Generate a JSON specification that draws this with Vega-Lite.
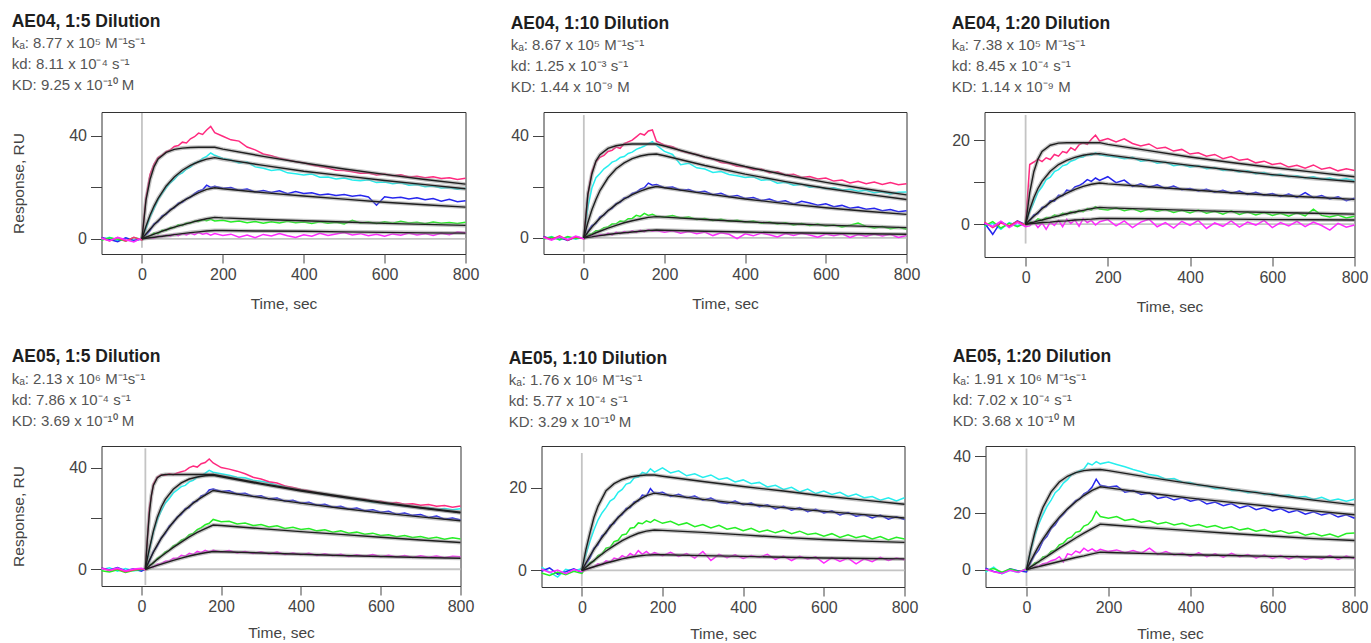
{
"$schema": "https://vega.github.io/schema/vega-lite/v6.json",
"padding": {"left": 10.5, "top": 12, "right": 5, "bottom": 2},
"config": {
  "font": "Liberation Sans",
  "view": {"stroke": "#333333", "strokeWidth": 1},
  "title": {"anchor": "start", "fontSize": 17.5, "fontWeight": "bold", "color": "#1e1e1e", "subtitleFontSize": 15, "subtitleColor": "#555555", "subtitleLineHeight": 21, "subtitlePadding": 6, "offset": 16},
  "axis": {"labelFontSize": 16, "labelColor": "#444444", "titleFontSize": 15.5, "titleFontWeight": "normal", "titleColor": "#444444", "tickColor": "#444444", "domain": false, "grid": false, "labelFlush": false, "labelOverlap": false},
  "axisX": {"tickSize": 9, "labelPadding": 3, "titlePadding": 14},
  "axisY": {"tickSize": 11, "labelPadding": 4, "titlePadding": 42}
},
"datasets": {
"g": [
{"p":1,"k":"v","t":0,"v":-3.5},{"p":1,"k":"v","t":0,"v":48.8},{"p":1,"k":"h","t":0,"v":0},{"p":1,"k":"h","t":800,"v":0},
{"p":2,"k":"v","t":0,"v":-5.4},{"p":2,"k":"v","t":0,"v":48},{"p":2,"k":"h","t":0,"v":0},{"p":2,"k":"h","t":800,"v":0},
{"p":3,"k":"v","t":0,"v":-4.6},{"p":3,"k":"v","t":0,"v":26},{"p":3,"k":"h","t":0,"v":0},{"p":3,"k":"h","t":800,"v":0},
{"p":4,"k":"v","t":10,"v":-6.2},{"p":4,"k":"v","t":10,"v":47.6},{"p":4,"k":"h","t":10,"v":0},{"p":4,"k":"h","t":800,"v":0},
{"p":5,"k":"v","t":0,"v":-3.8},{"p":5,"k":"v","t":0,"v":28.4},{"p":5,"k":"h","t":0,"v":0},{"p":5,"k":"h","t":800,"v":0},
{"p":6,"k":"v","t":0,"v":-5.8},{"p":6,"k":"v","t":0,"v":42.8},{"p":6,"k":"h","t":0,"v":0},{"p":6,"k":"h","t":800,"v":0}
],
"n1": [
{"t":-100,"r":0.3,"c":-0.4,"b":0.5,"g":-0.6,"m":0.2},
{"t":-80,"r":-0.8,"c":0.6,"b":-0.3,"g":0.4,"m":-0.7},
{"t":-60,"r":0.5,"c":-0.7,"b":-1.1,"g":-0.2,"m":0.6},
{"t":-40,"r":-0.9,"c":0.3,"b":0.4,"g":-0.8,"m":-0.4},
{"t":-20,"r":0.6,"c":-1.0,"b":-0.6,"g":0.5,"m":-1.2},
{"t":0,"r":-0.5,"c":0.2,"b":-0.2,"g":-0.3,"m":0.4},
{"t":10,"r":16,"c":4,"b":1.5,"g":0.8,"m":0.3},
{"t":20,"r":25,"c":8.5,"b":3.2,"g":1.0,"m":0.6},
{"t":30,"r":29,"c":11.8,"b":5.8,"g":2.2,"m":0.2},
{"t":40,"r":31.5,"c":15.2,"b":6.6,"g":2.0,"m":1.1},
{"t":50,"r":32.5,"c":17.6,"b":8.9,"g":3.3,"m":0.8},
{"t":60,"r":33.8,"c":19.8,"b":9.5,"g":3.2,"m":1.5},
{"t":70,"r":34.5,"c":21.7,"b":11.4,"g":4.4,"m":1.0},
{"t":80,"r":35.8,"c":23.0,"b":12.0,"g":4.3,"m":1.8},
{"t":90,"r":36.2,"c":24.8,"b":13.8,"g":5.4,"m":1.2},
{"t":100,"r":37.5,"c":25.6,"b":14.2,"g":5.2,"m":2.0},
{"t":110,"r":37.2,"c":27.1,"b":15.6,"g":6.1,"m":1.5},
{"t":120,"r":38.8,"c":27.8,"b":16.1,"g":6.0,"m":2.2},
{"t":130,"r":39.6,"c":29.4,"b":17.5,"g":6.9,"m":1.6},
{"t":140,"r":41.0,"c":29.8,"b":18.6,"g":6.7,"m":2.4},
{"t":150,"r":40.5,"c":31.2,"b":19.0,"g":7.4,"m":1.8},
{"t":160,"r":42.2,"c":32.0,"b":20.8,"g":7.0,"m":2.1},
{"t":170,"r":43.6,"c":33.3,"b":19.9,"g":7.6,"m":1.4},
{"t":180,"r":41.2,"c":32.4,"b":20.4,"g":6.9,"m":2.0},
{"t":200,"r":39.8,"c":31.2,"b":19.6,"g":7.2,"m":1.3},
{"t":220,"r":38.4,"c":30.6,"b":19.9,"g":6.5,"m":1.8},
{"t":240,"r":37.9,"c":29.4,"b":18.8,"g":6.9,"m":0.6},
{"t":260,"r":35.6,"c":29.8,"b":19.3,"g":6.2,"m":1.5},
{"t":280,"r":34.5,"c":27.9,"b":18.2,"g":6.7,"m":0.4},
{"t":300,"r":32.9,"c":27.4,"b":18.7,"g":6.0,"m":1.7},
{"t":320,"r":32.2,"c":26.5,"b":18.0,"g":6.6,"m":1.1},
{"t":340,"r":31.3,"c":26.9,"b":18.6,"g":6.1,"m":2.0},
{"t":360,"r":30.6,"c":25.6,"b":17.5,"g":6.8,"m":1.2},
{"t":380,"r":29.9,"c":25.2,"b":18.3,"g":6.2,"m":0.5},
{"t":400,"r":29.5,"c":24.8,"b":17.6,"g":6.5,"m":1.6},
{"t":420,"r":28.6,"c":25.1,"b":17.9,"g":5.9,"m":1.0},
{"t":440,"r":28.0,"c":23.9,"b":17.0,"g":6.6,"m":2.1},
{"t":460,"r":27.5,"c":24.0,"b":17.4,"g":6.0,"m":1.3},
{"t":480,"r":26.6,"c":23.2,"b":16.8,"g":6.4,"m":1.9},
{"t":500,"r":26.5,"c":23.6,"b":17.2,"g":5.8,"m":2.4},
{"t":520,"r":26.0,"c":22.8,"b":16.5,"g":7.2,"m":1.5},
{"t":540,"r":25.4,"c":22.5,"b":16.9,"g":6.1,"m":2.0},
{"t":560,"r":25.5,"c":22.9,"b":16.2,"g":6.5,"m":1.2},
{"t":580,"r":24.8,"c":21.8,"b":13.0,"g":5.9,"m":1.8},
{"t":600,"r":25.1,"c":22.0,"b":16.3,"g":6.6,"m":1.0},
{"t":620,"r":24.5,"c":21.4,"b":15.8,"g":6.0,"m":1.9},
{"t":640,"r":24.8,"c":21.7,"b":16.1,"g":6.8,"m":1.4},
{"t":660,"r":24.0,"c":20.8,"b":15.4,"g":6.1,"m":2.2},
{"t":680,"r":24.3,"c":21.1,"b":15.9,"g":6.4,"m":1.5},
{"t":700,"r":23.7,"c":20.2,"b":15.2,"g":5.8,"m":2.0},
{"t":720,"r":24.1,"c":20.5,"b":15.6,"g":6.5,"m":1.3},
{"t":740,"r":23.4,"c":19.7,"b":14.6,"g":6.0,"m":2.1},
{"t":760,"r":23.7,"c":19.9,"b":15.3,"g":6.3,"m":1.6},
{"t":780,"r":23.0,"c":19.2,"b":14.4,"g":5.9,"m":2.6},
{"t":800,"r":23.5,"c":19.6,"b":14.8,"g":6.4,"m":2.3}
],
"f1": [
{"t":0,"r":0,"c":0,"b":0,"g":0,"m":0},
{"t":10,"r":15,"c":4.9,"b":1.9,"g":0.6,"m":0.2},
{"t":20,"r":23,"c":9.1,"b":3.7,"g":1.2,"m":0.4},
{"t":30,"r":28,"c":12.7,"b":5.4,"g":1.8,"m":0.6},
{"t":40,"r":31,"c":15.7,"b":7.0,"g":2.4,"m":0.8},
{"t":60,"r":33.5,"c":20.5,"b":9.8,"g":3.5,"m":1.2},
{"t":80,"r":34.7,"c":24.0,"b":12.3,"g":4.5,"m":1.6},
{"t":100,"r":35.2,"c":26.6,"b":14.5,"g":5.4,"m":2.0},
{"t":120,"r":35.4,"c":28.5,"b":16.3,"g":6.3,"m":2.4},
{"t":140,"r":35.5,"c":29.9,"b":17.9,"g":7.1,"m":2.7},
{"t":160,"r":35.5,"c":30.9,"b":19.2,"g":7.8,"m":3.0},
{"t":180,"r":35.5,"c":31.5,"b":19.8,"g":8.3,"m":3.2},
{"t":200,"r":34.8,"c":30.9,"b":19.4,"g":8.1,"m":3.2},
{"t":300,"r":32.0,"c":28.5,"b":17.9,"g":7.5,"m":3.0},
{"t":400,"r":29.4,"c":26.2,"b":16.6,"g":7.0,"m":2.9},
{"t":500,"r":27.1,"c":24.4,"b":15.4,"g":6.5,"m":2.7},
{"t":600,"r":25.0,"c":22.6,"b":14.2,"g":6.0,"m":2.5},
{"t":700,"r":23.0,"c":21.0,"b":13.2,"g":5.6,"m":2.3},
{"t":800,"r":21.2,"c":19.4,"b":12.3,"g":5.2,"m":2.2}
],
"n2": [
{"t":-100,"r":0.4,"c":-0.3,"b":0.6,"g":-0.5,"m":0.1},
{"t":-80,"r":-0.6,"c":0.5,"b":-0.5,"g":0.3,"m":-0.9},
{"t":-60,"r":0.8,"c":-0.8,"b":0.1,"g":-0.7,"m":0.4},
{"t":-40,"r":-0.9,"c":0.2,"b":-1.0,"g":0.5,"m":-0.6},
{"t":-20,"r":0.3,"c":-0.5,"b":0.4,"g":-0.2,"m":0.7},
{"t":0,"r":-0.4,"c":0.3,"b":-0.2,"g":0.1,"m":-0.3},
{"t":10,"r":17,"c":12,"b":2.5,"g":1.2,"m":0.4},
{"t":20,"r":26,"c":19.5,"b":4.8,"g":1.6,"m":0.8},
{"t":30,"r":29.8,"c":23.5,"b":5.6,"g":2.8,"m":0.5},
{"t":40,"r":31.5,"c":25.2,"b":8.2,"g":2.9,"m":1.3},
{"t":50,"r":32.2,"c":27.0,"b":8.9,"g":4.0,"m":1.0},
{"t":60,"r":33.8,"c":28.1,"b":10.8,"g":4.3,"m":1.8},
{"t":70,"r":34.2,"c":29.6,"b":11.5,"g":5.4,"m":1.2},
{"t":80,"r":35.5,"c":30.2,"b":13.4,"g":5.5,"m":2.2},
{"t":90,"r":35.0,"c":31.4,"b":13.9,"g":6.6,"m":1.6},
{"t":100,"r":36.8,"c":31.8,"b":15.6,"g":6.4,"m":2.5},
{"t":110,"r":37.5,"c":33.0,"b":15.9,"g":7.5,"m":1.9},
{"t":120,"r":38.2,"c":33.5,"b":17.4,"g":7.6,"m":2.8},
{"t":130,"r":39.5,"c":34.6,"b":17.8,"g":8.8,"m":2.1},
{"t":140,"r":40.8,"c":35.2,"b":19.0,"g":8.4,"m":3.0},
{"t":150,"r":40.2,"c":35.9,"b":19.6,"g":9.6,"m":2.4},
{"t":160,"r":41.8,"c":36.8,"b":21.4,"g":8.8,"m":3.2},
{"t":170,"r":42.2,"c":37.6,"b":20.6,"g":9.2,"m":2.6},
{"t":180,"r":37.8,"c":36.2,"b":20.9,"g":8.5,"m":2.9},
{"t":200,"r":36.2,"c":33.8,"b":19.6,"g":8.2,"m":2.2},
{"t":220,"r":35.6,"c":32.6,"b":19.9,"g":8.7,"m":2.8},
{"t":240,"r":34.0,"c":28.6,"b":18.6,"g":7.8,"m":1.8},
{"t":260,"r":33.2,"c":29.2,"b":18.9,"g":8.2,"m":2.5},
{"t":280,"r":32.6,"c":27.4,"b":17.8,"g":7.2,"m":1.6},
{"t":300,"r":31.4,"c":26.9,"b":18.2,"g":7.6,"m":2.3},
{"t":320,"r":30.8,"c":25.6,"b":16.9,"g":6.8,"m":0.9},
{"t":340,"r":29.5,"c":25.9,"b":17.4,"g":7.3,"m":2.0},
{"t":360,"r":29.1,"c":24.8,"b":16.1,"g":6.5,"m":1.4},
{"t":380,"r":28.0,"c":24.3,"b":16.6,"g":6.9,"m":-0.3},
{"t":400,"r":27.8,"c":23.6,"b":15.4,"g":6.2,"m":1.6},
{"t":420,"r":26.6,"c":23.9,"b":15.8,"g":6.6,"m":0.8},
{"t":440,"r":26.9,"c":22.5,"b":14.6,"g":5.7,"m":1.9},
{"t":460,"r":25.5,"c":22.8,"b":15.2,"g":6.2,"m":1.2},
{"t":480,"r":25.8,"c":21.4,"b":14.0,"g":5.4,"m":0.4},
{"t":500,"r":24.6,"c":21.7,"b":14.5,"g":5.9,"m":1.7},
{"t":520,"r":24.9,"c":20.6,"b":13.2,"g":5.0,"m":0.9},
{"t":540,"r":23.6,"c":21.0,"b":14.3,"g":5.6,"m":1.8},
{"t":560,"r":24.0,"c":19.8,"b":13.6,"g":4.8,"m":1.1},
{"t":580,"r":23.0,"c":20.1,"b":12.8,"g":5.4,"m":0.3},
{"t":600,"r":23.4,"c":19.2,"b":13.3,"g":4.6,"m":1.5},
{"t":620,"r":22.2,"c":19.6,"b":12.2,"g":5.0,"m":0.8},
{"t":640,"r":22.6,"c":18.7,"b":12.7,"g":4.3,"m":1.6},
{"t":660,"r":21.5,"c":19.0,"b":11.6,"g":4.9,"m":0.2},
{"t":680,"r":22.1,"c":18.2,"b":12.1,"g":5.8,"m":1.3},
{"t":700,"r":21.2,"c":18.6,"b":11.2,"g":4.5,"m":0.6},
{"t":720,"r":21.8,"c":17.6,"b":11.6,"g":3.9,"m":1.5},
{"t":740,"r":20.9,"c":18.0,"b":10.6,"g":4.4,"m":0.7},
{"t":760,"r":21.6,"c":17.2,"b":11.1,"g":3.6,"m":1.4},
{"t":780,"r":20.8,"c":17.8,"b":10.2,"g":4.1,"m":0.2},
{"t":800,"r":21.2,"c":17.9,"b":10.6,"g":3.4,"m":0.9}
],
"f2": [
{"t":0,"r":0,"c":0,"b":0,"g":0,"m":0},
{"t":10,"r":17,"c":6,"b":2.2,"g":0.7,"m":0.2},
{"t":20,"r":25,"c":11,"b":4.2,"g":1.3,"m":0.4},
{"t":30,"r":30,"c":15,"b":6.0,"g":2.0,"m":0.7},
{"t":40,"r":32.5,"c":18.5,"b":7.7,"g":2.6,"m":0.9},
{"t":60,"r":35,"c":23.5,"b":10.6,"g":3.8,"m":1.3},
{"t":80,"r":36,"c":27,"b":13.1,"g":4.9,"m":1.7},
{"t":100,"r":36.5,"c":29.3,"b":15.2,"g":5.9,"m":2.0},
{"t":120,"r":36.7,"c":31,"b":16.9,"g":6.7,"m":2.3},
{"t":140,"r":36.7,"c":32,"b":18.3,"g":7.4,"m":2.6},
{"t":160,"r":36.7,"c":32.6,"b":19.4,"g":8.0,"m":2.9},
{"t":180,"r":36.7,"c":32.8,"b":20.1,"g":8.3,"m":3.1},
{"t":200,"r":35.9,"c":32.1,"b":19.6,"g":8.1,"m":3.0},
{"t":300,"r":31.6,"c":28.3,"b":17.3,"g":7.2,"m":2.6},
{"t":400,"r":27.9,"c":24.9,"b":15.2,"g":6.3,"m":2.3},
{"t":500,"r":24.6,"c":22.0,"b":13.4,"g":5.6,"m":2.0},
{"t":600,"r":21.7,"c":19.4,"b":11.8,"g":5.0,"m":1.8},
{"t":700,"r":19.1,"c":17.1,"b":10.4,"g":4.5,"m":1.6},
{"t":800,"r":16.8,"c":15.0,"b":9.2,"g":4.0,"m":1.4}
],
"n3": [
{"t":-100,"r":0.5,"c":-0.6,"b":0.3,"g":-0.4,"m":0.2},
{"t":-80,"r":-0.8,"c":0.2,"b":-2.4,"g":0.6,"m":-0.5},
{"t":-60,"r":0.3,"c":-1.2,"b":0.6,"g":-0.9,"m":0.7},
{"t":-40,"r":-0.4,"c":0.4,"b":-0.5,"g":0.2,"m":-0.8},
{"t":-20,"r":0.7,"c":-0.3,"b":0.8,"g":-0.6,"m":0.4},
{"t":0,"r":-0.2,"c":0.1,"b":-0.1,"g":0.3,"m":-0.6},
{"t":10,"r":14.2,"c":3.0,"b":0.8,"g":0.5,"m":-0.4},
{"t":20,"r":14.8,"c":5.2,"b":2.2,"g":0.4,"m":0.6},
{"t":30,"r":15.5,"c":7.6,"b":2.5,"g":1.3,"m":-0.8},
{"t":40,"r":14.9,"c":8.9,"b":4.0,"g":0.9,"m":0.3},
{"t":50,"r":15.8,"c":10.6,"b":4.2,"g":1.6,"m":-1.2},
{"t":60,"r":15.4,"c":11.2,"b":5.6,"g":1.5,"m":0.5},
{"t":70,"r":16.6,"c":12.5,"b":5.5,"g":2.2,"m":-0.3},
{"t":80,"r":16.2,"c":13.0,"b":6.9,"g":1.9,"m":0.9},
{"t":90,"r":17.3,"c":13.9,"b":6.8,"g":2.6,"m":-0.6},
{"t":100,"r":17.0,"c":14.2,"b":8.1,"g":2.3,"m":1.2},
{"t":110,"r":18.2,"c":15.0,"b":7.9,"g":3.0,"m":0.2},
{"t":120,"r":17.6,"c":15.3,"b":8.9,"g":2.7,"m":1.0},
{"t":130,"r":18.9,"c":15.9,"b":9.2,"g":3.3,"m":-0.5},
{"t":140,"r":19.4,"c":16.0,"b":9.8,"g":3.0,"m":1.3},
{"t":150,"r":19.0,"c":16.6,"b":10.6,"g":3.7,"m":0.4},
{"t":160,"r":20.2,"c":16.4,"b":10.2,"g":3.4,"m":0.9},
{"t":170,"r":21.2,"c":17.0,"b":11.0,"g":4.2,"m":-0.2},
{"t":180,"r":19.8,"c":16.5,"b":10.4,"g":3.6,"m":0.6},
{"t":200,"r":20.4,"c":16.2,"b":11.3,"g":3.4,"m":1.1},
{"t":220,"r":19.6,"c":16.0,"b":9.9,"g":3.9,"m":-0.4},
{"t":240,"r":20.3,"c":15.6,"b":10.5,"g":3.2,"m":0.8},
{"t":260,"r":19.2,"c":15.9,"b":9.0,"g":3.7,"m":-0.8},
{"t":280,"r":18.6,"c":15.0,"b":9.6,"g":3.0,"m":0.5},
{"t":300,"r":19.1,"c":15.3,"b":8.8,"g":3.6,"m":1.2},
{"t":320,"r":18.0,"c":14.5,"b":9.4,"g":3.1,"m":-0.6},
{"t":340,"r":18.3,"c":14.8,"b":8.5,"g":3.5,"m":0.4},
{"t":360,"r":17.4,"c":13.9,"b":9.1,"g":2.8,"m":-0.9},
{"t":380,"r":17.8,"c":14.2,"b":8.2,"g":3.3,"m":0.7},
{"t":400,"r":16.7,"c":13.6,"b":8.5,"g":2.7,"m":-0.3},
{"t":420,"r":17.0,"c":13.9,"b":7.9,"g":3.4,"m":0.9},
{"t":440,"r":16.2,"c":13.2,"b":8.3,"g":2.6,"m":-1.0},
{"t":460,"r":16.6,"c":13.5,"b":7.6,"g":3.1,"m":0.3},
{"t":480,"r":15.6,"c":12.8,"b":8.1,"g":2.4,"m":-0.5},
{"t":500,"r":16.1,"c":13.0,"b":7.4,"g":3.2,"m":0.8},
{"t":520,"r":15.2,"c":12.4,"b":7.9,"g":2.3,"m":-0.7},
{"t":540,"r":15.5,"c":12.7,"b":7.1,"g":2.9,"m":0.5},
{"t":560,"r":14.6,"c":12.0,"b":7.6,"g":2.2,"m":-0.2},
{"t":580,"r":15.0,"c":12.3,"b":6.9,"g":2.8,"m":0.9},
{"t":600,"r":14.2,"c":11.6,"b":7.3,"g":2.1,"m":-0.8},
{"t":620,"r":14.5,"c":11.9,"b":6.6,"g":2.6,"m":0.4},
{"t":640,"r":13.6,"c":11.3,"b":7.2,"g":1.9,"m":-0.4},
{"t":660,"r":14.0,"c":11.5,"b":6.4,"g":2.7,"m":0.7},
{"t":680,"r":13.3,"c":11.0,"b":7.5,"g":2.0,"m":-0.6},
{"t":700,"r":14.1,"c":11.3,"b":6.3,"g":3.6,"m":0.5},
{"t":720,"r":13.1,"c":10.7,"b":6.8,"g":2.1,"m":-0.3},
{"t":740,"r":13.5,"c":11.0,"b":6.0,"g":1.7,"m":-1.4},
{"t":760,"r":12.7,"c":10.5,"b":6.5,"g":2.2,"m":0.2},
{"t":780,"r":13.2,"c":10.8,"b":5.6,"g":1.5,"m":-0.7},
{"t":800,"r":12.8,"c":10.4,"b":6.2,"g":1.9,"m":-0.2}
],
"f3": [
{"t":0,"r":0,"c":0,"b":0,"g":0,"m":0},
{"t":10,"r":7.5,"c":3.5,"b":1.0,"g":0.3,"m":0.1},
{"t":20,"r":12.5,"c":6.3,"b":1.9,"g":0.5,"m":0.2},
{"t":30,"r":15.5,"c":8.5,"b":2.8,"g":0.8,"m":0.3},
{"t":40,"r":17.3,"c":10.2,"b":3.7,"g":1.0,"m":0.4},
{"t":60,"r":18.8,"c":12.6,"b":5.2,"g":1.5,"m":0.5},
{"t":80,"r":19.3,"c":14.2,"b":6.4,"g":2.0,"m":0.7},
{"t":100,"r":19.4,"c":15.2,"b":7.4,"g":2.5,"m":0.8},
{"t":120,"r":19.4,"c":15.9,"b":8.3,"g":2.9,"m":1.0},
{"t":140,"r":19.4,"c":16.4,"b":9.0,"g":3.3,"m":1.1},
{"t":160,"r":19.4,"c":16.7,"b":9.5,"g":3.7,"m":1.2},
{"t":180,"r":19.4,"c":16.8,"b":9.8,"g":4.0,"m":1.35},
{"t":200,"r":19.0,"c":16.5,"b":9.6,"g":3.9,"m":1.35},
{"t":300,"r":17.5,"c":15.2,"b":8.9,"g":3.6,"m":1.3},
{"t":400,"r":16.0,"c":14.0,"b":8.2,"g":3.3,"m":1.25},
{"t":500,"r":14.7,"c":12.9,"b":7.5,"g":3.0,"m":1.2},
{"t":600,"r":13.5,"c":11.8,"b":6.9,"g":2.8,"m":1.1},
{"t":700,"r":12.4,"c":10.9,"b":6.4,"g":2.6,"m":1.05},
{"t":800,"r":11.3,"c":10.1,"b":5.9,"g":2.4,"m":1.0}
],
"n4": [
{"t":-100,"r":0.4,"c":-0.2,"b":0.5,"g":-0.6,"m":0.3},
{"t":-80,"r":-0.5,"c":0.6,"b":-0.3,"g":-1.1,"m":-0.4},
{"t":-60,"r":0.2,"c":-0.8,"b":0.7,"g":-0.2,"m":0.5},
{"t":-40,"r":-1.0,"c":0.3,"b":-0.6,"g":-1.3,"m":-0.7},
{"t":-20,"r":-0.3,"c":-0.6,"b":0.2,"g":-0.5,"m":0.1},
{"t":0,"r":0.2,"c":-0.4,"b":-0.8,"g":-0.1,"m":0.4},
{"t":10,"r":-0.2,"c":0.1,"b":0,"g":0,"m":0},
{"t":20,"r":24,"c":7.5,"b":3.2,"g":1.6,"m":0.9},
{"t":30,"r":33.5,"c":14.5,"b":6.9,"g":2.4,"m":0.8},
{"t":40,"r":36.3,"c":19.5,"b":9.2,"g":4.3,"m":2.0},
{"t":50,"r":37.2,"c":23.0,"b":12.4,"g":5.2,"m":2.2},
{"t":60,"r":37.0,"c":26.0,"b":14.0,"g":6.8,"m":3.1},
{"t":70,"r":37.6,"c":27.8,"b":17.0,"g":7.4,"m":3.2},
{"t":80,"r":37.2,"c":30.0,"b":18.3,"g":9.2,"m":4.3},
{"t":90,"r":37.9,"c":31.2,"b":20.6,"g":9.9,"m":4.2},
{"t":100,"r":38.4,"c":32.5,"b":21.6,"g":11.4,"m":5.5},
{"t":110,"r":38.8,"c":33.0,"b":23.8,"g":12.0,"m":5.1},
{"t":120,"r":40.0,"c":34.4,"b":24.3,"g":13.6,"m":6.3},
{"t":130,"r":40.6,"c":35.0,"b":26.4,"g":14.1,"m":5.8},
{"t":140,"r":40.2,"c":36.2,"b":26.8,"g":15.6,"m":7.0},
{"t":150,"r":41.5,"c":36.8,"b":28.9,"g":16.4,"m":6.5},
{"t":160,"r":42.0,"c":37.8,"b":29.3,"g":17.5,"m":7.4},
{"t":170,"r":43.4,"c":38.9,"b":31.2,"g":18.1,"m":6.8},
{"t":180,"r":41.8,"c":38.2,"b":31.6,"g":19.6,"m":7.5},
{"t":200,"r":40.0,"c":37.6,"b":30.6,"g":18.7,"m":6.8},
{"t":220,"r":39.4,"c":37.0,"b":30.9,"g":18.9,"m":7.4},
{"t":240,"r":38.6,"c":36.2,"b":29.6,"g":17.8,"m":6.4},
{"t":260,"r":37.6,"c":36.0,"b":29.9,"g":18.2,"m":7.0},
{"t":280,"r":36.2,"c":35.0,"b":28.6,"g":17.2,"m":6.2},
{"t":300,"r":35.5,"c":34.6,"b":28.9,"g":17.6,"m":6.9},
{"t":320,"r":34.4,"c":34.0,"b":27.6,"g":16.6,"m":6.0},
{"t":340,"r":33.9,"c":33.1,"b":28.0,"g":17.1,"m":6.8},
{"t":360,"r":32.8,"c":32.7,"b":26.8,"g":16.0,"m":5.8},
{"t":380,"r":32.2,"c":31.8,"b":27.1,"g":16.5,"m":6.4},
{"t":400,"r":31.4,"c":31.2,"b":26.0,"g":15.6,"m":5.7},
{"t":420,"r":30.9,"c":30.5,"b":26.4,"g":16.0,"m":6.3},
{"t":440,"r":30.1,"c":30.0,"b":25.2,"g":15.1,"m":5.4},
{"t":460,"r":29.6,"c":29.3,"b":25.6,"g":15.5,"m":6.1},
{"t":480,"r":28.8,"c":29.0,"b":24.4,"g":14.6,"m":5.3},
{"t":500,"r":28.7,"c":28.4,"b":24.8,"g":15.1,"m":5.9},
{"t":520,"r":28.0,"c":28.0,"b":23.6,"g":14.2,"m":5.0},
{"t":540,"r":27.6,"c":27.3,"b":24.1,"g":14.6,"m":5.7},
{"t":560,"r":27.5,"c":27.0,"b":23.0,"g":13.8,"m":5.1},
{"t":580,"r":26.8,"c":26.4,"b":23.4,"g":14.2,"m":5.8},
{"t":600,"r":26.8,"c":26.2,"b":22.4,"g":13.3,"m":4.9},
{"t":620,"r":26.1,"c":25.6,"b":22.8,"g":13.6,"m":5.5},
{"t":640,"r":26.3,"c":25.4,"b":21.6,"g":12.8,"m":4.8},
{"t":660,"r":25.6,"c":24.8,"b":22.1,"g":13.3,"m":5.4},
{"t":680,"r":25.8,"c":24.6,"b":21.2,"g":12.5,"m":4.6},
{"t":700,"r":25.2,"c":24.1,"b":21.5,"g":12.9,"m":5.3},
{"t":720,"r":25.5,"c":24.3,"b":20.4,"g":12.1,"m":4.7},
{"t":740,"r":24.8,"c":23.6,"b":20.9,"g":12.6,"m":5.2},
{"t":760,"r":25.1,"c":23.9,"b":19.7,"g":11.8,"m":4.5},
{"t":780,"r":24.4,"c":23.4,"b":20.2,"g":12.4,"m":5.1},
{"t":800,"r":24.9,"c":23.8,"b":19.4,"g":11.9,"m":4.9}
],
"f4": [
{"t":10,"r":0,"c":0,"b":0,"g":0,"m":0},
{"t":15,"r":12,"c":4.3,"b":1.7,"g":0.6,"m":0.2},
{"t":20,"r":22,"c":8,"b":3.5,"g":1.3,"m":0.5},
{"t":25,"r":29,"c":11.5,"b":5.1,"g":1.9,"m":0.7},
{"t":30,"r":33,"c":15,"b":6.7,"g":2.6,"m":1.0},
{"t":40,"r":36,"c":20.5,"b":9.6,"g":3.9,"m":1.5},
{"t":50,"r":37,"c":24.5,"b":12.2,"g":5.1,"m":2.0},
{"t":60,"r":37.3,"c":27.5,"b":14.5,"g":6.3,"m":2.5},
{"t":80,"r":37.3,"c":31.5,"b":18.6,"g":8.6,"m":3.5},
{"t":100,"r":37.3,"c":34,"b":22,"g":10.7,"m":4.4},
{"t":120,"r":37.3,"c":35.5,"b":24.8,"g":12.7,"m":5.2},
{"t":140,"r":37.3,"c":36.3,"b":27.2,"g":14.5,"m":5.9},
{"t":160,"r":37.3,"c":36.8,"b":29.2,"g":16.0,"m":6.5},
{"t":180,"r":37.3,"c":37.0,"b":31,"g":17.4,"m":7.0},
{"t":200,"r":36.7,"c":36.4,"b":30.5,"g":17.2,"m":6.9},
{"t":300,"r":33.8,"c":33.5,"b":28.2,"g":16.0,"m":6.4},
{"t":400,"r":31.1,"c":30.8,"b":26.0,"g":14.8,"m":5.9},
{"t":500,"r":28.7,"c":28.4,"b":24.0,"g":13.7,"m":5.4},
{"t":600,"r":26.4,"c":26.1,"b":22.2,"g":12.6,"m":5.0},
{"t":700,"r":24.3,"c":24.1,"b":20.6,"g":11.5,"m":4.6},
{"t":800,"r":22.4,"c":22.2,"b":19.1,"g":10.5,"m":4.3}
],
"n5": [
{"t":-100,"c":0.8,"b":-0.2,"g":-0.6,"m":0.3},
{"t":-80,"c":-0.4,"b":0.6,"g":-1.2,"m":-0.5},
{"t":-60,"c":-1.6,"b":-0.9,"g":-0.4,"m":0.1},
{"t":-40,"c":0.3,"b":-0.3,"g":-1.0,"m":-0.8},
{"t":-20,"c":-0.2,"b":0.4,"g":-0.2,"m":0.2},
{"t":0,"c":0.5,"b":-0.5,"g":-0.7,"m":-0.3},
{"t":10,"c":3.8,"b":1.6,"g":0.6,"m":0.2},
{"t":20,"c":7.0,"b":3.0,"g":1.9,"m":0.6},
{"t":30,"c":9.8,"b":5.4,"g":2.2,"m":0.9},
{"t":40,"c":12.2,"b":6.2,"g":3.6,"m":1.6},
{"t":50,"c":13.9,"b":8.4,"g":4.0,"m":1.4},
{"t":60,"c":15.2,"b":9.0,"g":5.4,"m":2.3},
{"t":70,"c":16.8,"b":10.9,"g":5.6,"m":2.0},
{"t":80,"c":17.4,"b":11.4,"g":7.0,"m":3.0},
{"t":90,"c":18.9,"b":13.0,"g":7.3,"m":2.7},
{"t":100,"c":19.6,"b":13.5,"g":8.6,"m":3.6},
{"t":110,"c":20.9,"b":15.0,"g":8.8,"m":3.1},
{"t":120,"c":21.2,"b":15.2,"g":10.2,"m":4.1},
{"t":130,"c":22.4,"b":16.6,"g":10.4,"m":3.5},
{"t":140,"c":22.6,"b":16.8,"g":11.5,"m":4.8},
{"t":150,"c":23.7,"b":18.2,"g":11.3,"m":3.9},
{"t":160,"c":23.4,"b":18.0,"g":12.0,"m":4.6},
{"t":170,"c":24.6,"b":19.8,"g":11.6,"m":3.8},
{"t":180,"c":23.8,"b":18.6,"g":12.3,"m":4.3},
{"t":200,"c":24.8,"b":18.9,"g":11.4,"m":3.6},
{"t":220,"c":23.6,"b":17.9,"g":11.9,"m":4.4},
{"t":240,"c":24.1,"b":18.4,"g":11.0,"m":3.4},
{"t":260,"c":22.9,"b":17.6,"g":11.5,"m":4.1},
{"t":280,"c":23.4,"b":18.0,"g":10.6,"m":3.0},
{"t":300,"c":22.5,"b":17.0,"g":11.1,"m":4.6},
{"t":320,"c":23.1,"b":17.5,"g":10.3,"m":2.4},
{"t":340,"c":22.0,"b":16.5,"g":10.9,"m":3.9},
{"t":360,"c":22.4,"b":16.2,"g":10.0,"m":3.1},
{"t":380,"c":21.4,"b":16.8,"g":10.4,"m":3.8},
{"t":400,"c":21.9,"b":15.9,"g":9.6,"m":2.9},
{"t":420,"c":21.0,"b":16.3,"g":10.2,"m":3.6},
{"t":440,"c":21.3,"b":15.4,"g":9.3,"m":3.2},
{"t":460,"c":20.2,"b":15.9,"g":9.8,"m":3.9},
{"t":480,"c":20.6,"b":14.9,"g":9.1,"m":2.7},
{"t":500,"c":19.6,"b":15.5,"g":9.7,"m":3.5},
{"t":520,"c":20.1,"b":14.6,"g":8.9,"m":2.4},
{"t":540,"c":19.0,"b":15.2,"g":9.5,"m":3.4},
{"t":560,"c":19.7,"b":14.2,"g":8.7,"m":2.8},
{"t":580,"c":18.6,"b":14.8,"g":9.0,"m":3.3},
{"t":600,"c":19.2,"b":13.9,"g":8.3,"m":1.8},
{"t":620,"c":18.4,"b":14.4,"g":8.9,"m":3.1},
{"t":640,"c":18.9,"b":13.4,"g":8.0,"m":2.2},
{"t":660,"c":17.9,"b":14.0,"g":8.6,"m":3.0},
{"t":680,"c":18.5,"b":13.1,"g":7.9,"m":1.6},
{"t":700,"c":17.6,"b":13.5,"g":8.4,"m":2.8},
{"t":720,"c":17.9,"b":12.7,"g":7.6,"m":2.1},
{"t":740,"c":17.0,"b":13.4,"g":8.2,"m":3.2},
{"t":760,"c":17.6,"b":12.4,"g":7.4,"m":2.4},
{"t":780,"c":16.8,"b":13.0,"g":8.0,"m":3.0},
{"t":800,"c":17.6,"b":12.3,"g":7.6,"m":2.6}
],
"f5": [
{"t":0,"c":0,"b":0,"g":0,"m":0},
{"t":10,"c":5,"b":1.8,"g":0.8,"m":0.3},
{"t":20,"c":9,"b":3.5,"g":1.6,"m":0.6},
{"t":30,"c":12.8,"b":5.1,"g":2.4,"m":0.9},
{"t":40,"c":15.5,"b":6.6,"g":3.2,"m":1.2},
{"t":60,"c":19.3,"b":9.3,"g":4.7,"m":1.8},
{"t":80,"c":21,"b":11.7,"g":6.0,"m":2.3},
{"t":100,"c":22,"b":13.8,"g":7.2,"m":2.8},
{"t":120,"c":22.6,"b":15.5,"g":8.2,"m":3.2},
{"t":140,"c":22.9,"b":17.0,"g":9.0,"m":3.5},
{"t":160,"c":23.1,"b":18.1,"g":9.5,"m":3.7},
{"t":180,"c":23.1,"b":18.7,"g":9.8,"m":3.8},
{"t":200,"c":22.8,"b":18.4,"g":9.7,"m":3.8},
{"t":300,"c":21.5,"b":17.2,"g":9.2,"m":3.6},
{"t":400,"c":20.3,"b":16.1,"g":8.6,"m":3.4},
{"t":500,"c":19.2,"b":15.2,"g":8.0,"m":3.2},
{"t":600,"c":18.0,"b":14.3,"g":7.5,"m":3.0},
{"t":700,"c":17.0,"b":13.5,"g":7.1,"m":2.9},
{"t":800,"c":16.0,"b":12.7,"g":6.8,"m":2.8}
],
"n6": [
{"t":-100,"c":-0.8,"b":0.5,"g":-0.3,"m":0.2},
{"t":-80,"c":0.9,"b":-0.6,"g":0.4,"m":-0.7},
{"t":-60,"c":-1.5,"b":-1.2,"g":-0.9,"m":-1.3},
{"t":-40,"c":-0.2,"b":0.3,"g":0.2,"m":-0.2},
{"t":-20,"c":-1.0,"b":-0.4,"g":-0.6,"m":-0.9},
{"t":0,"c":0.4,"b":-0.8,"g":0.1,"m":0.3},
{"t":10,"c":6.5,"b":2.5,"g":0.7,"m":0.4},
{"t":20,"c":12.0,"b":5.2,"g":2.4,"m":1.0},
{"t":30,"c":16.2,"b":7.0,"g":2.6,"m":1.3},
{"t":40,"c":19.4,"b":10.2,"g":4.5,"m":2.1},
{"t":50,"c":22.4,"b":11.8,"g":4.8,"m":2.4},
{"t":60,"c":24.6,"b":14.6,"g":6.5,"m":3.2},
{"t":70,"c":27.2,"b":15.9,"g":6.9,"m":3.6},
{"t":80,"c":28.5,"b":18.2,"g":8.8,"m":4.6},
{"t":90,"c":30.6,"b":19.6,"g":9.4,"m":2.8},
{"t":100,"c":31.8,"b":21.4,"g":11.0,"m":5.6},
{"t":110,"c":33.6,"b":22.8,"g":11.6,"m":5.2},
{"t":120,"c":34.2,"b":24.4,"g":13.2,"m":6.6},
{"t":130,"c":35.0,"b":25.0,"g":13.6,"m":6.0},
{"t":140,"c":35.6,"b":26.8,"g":15.4,"m":7.6},
{"t":150,"c":37.6,"b":27.6,"g":16.0,"m":6.6},
{"t":160,"c":37.0,"b":29.2,"g":17.6,"m":7.4},
{"t":170,"c":38.2,"b":32.0,"g":20.6,"m":6.4},
{"t":180,"c":37.4,"b":29.8,"g":18.8,"m":7.2},
{"t":200,"c":38.0,"b":29.2,"g":18.2,"m":6.4},
{"t":220,"c":37.2,"b":29.6,"g":18.8,"m":7.0},
{"t":240,"c":36.4,"b":27.4,"g":17.4,"m":6.0},
{"t":260,"c":35.4,"b":28.0,"g":17.9,"m":6.8},
{"t":280,"c":34.6,"b":26.6,"g":16.8,"m":5.8},
{"t":300,"c":33.6,"b":27.2,"g":17.3,"m":7.6},
{"t":320,"c":33.2,"b":25.2,"g":16.2,"m":5.4},
{"t":340,"c":32.0,"b":25.8,"g":16.8,"m":6.4},
{"t":360,"c":32.2,"b":24.6,"g":15.8,"m":5.2},
{"t":380,"c":30.9,"b":25.4,"g":16.4,"m":5.8},
{"t":400,"c":30.8,"b":24.2,"g":15.4,"m":4.8},
{"t":420,"c":29.8,"b":24.9,"g":16.0,"m":6.0},
{"t":440,"c":29.6,"b":23.2,"g":15.0,"m":4.6},
{"t":460,"c":28.6,"b":23.9,"g":15.6,"m":5.6},
{"t":480,"c":28.9,"b":22.6,"g":14.6,"m":4.4},
{"t":500,"c":28.0,"b":23.4,"g":15.2,"m":5.8},
{"t":520,"c":28.1,"b":21.8,"g":14.0,"m":4.6},
{"t":540,"c":27.2,"b":22.7,"g":14.6,"m":5.4},
{"t":560,"c":27.5,"b":21.2,"g":13.6,"m":4.2},
{"t":580,"c":26.6,"b":22.0,"g":14.2,"m":5.2},
{"t":600,"c":26.9,"b":20.8,"g":13.2,"m":4.0},
{"t":620,"c":26.0,"b":21.6,"g":13.8,"m":5.0},
{"t":640,"c":26.4,"b":20.2,"g":12.8,"m":3.8},
{"t":660,"c":25.6,"b":21.0,"g":13.4,"m":4.8},
{"t":680,"c":25.9,"b":19.6,"g":12.2,"m":3.6},
{"t":700,"c":24.8,"b":20.5,"g":12.9,"m":4.4},
{"t":720,"c":25.6,"b":19.3,"g":11.9,"m":3.8},
{"t":740,"c":24.4,"b":20.0,"g":12.6,"m":5.0},
{"t":760,"c":25.0,"b":18.6,"g":11.6,"m":3.6},
{"t":780,"c":24.2,"b":19.4,"g":12.8,"m":4.8},
{"t":800,"c":24.9,"b":18.2,"g":13.0,"m":4.0}
],
"f6": [
{"t":0,"c":0,"b":0,"g":0,"m":0},
{"t":10,"c":7,"b":3,"g":1,"m":0.4},
{"t":20,"c":13,"b":5.8,"g":1.9,"m":0.8},
{"t":30,"c":18,"b":8.4,"g":2.9,"m":1.1},
{"t":40,"c":22,"b":10.8,"g":3.8,"m":1.5},
{"t":60,"c":27.5,"b":15,"g":5.7,"m":2.2},
{"t":80,"c":31,"b":18.5,"g":7.6,"m":2.9},
{"t":100,"c":33,"b":21.5,"g":9.4,"m":3.6},
{"t":120,"c":34.3,"b":24,"g":11.2,"m":4.3},
{"t":140,"c":35,"b":26.2,"g":12.9,"m":4.9},
{"t":160,"c":35.3,"b":28,"g":14.5,"m":5.6},
{"t":180,"c":35.4,"b":29.3,"g":16.1,"m":6.2},
{"t":200,"c":35.0,"b":28.9,"g":15.9,"m":6.1},
{"t":300,"c":32.6,"b":27.0,"g":14.8,"m":5.7},
{"t":400,"c":30.4,"b":25.3,"g":13.8,"m":5.3},
{"t":500,"c":28.4,"b":23.8,"g":12.8,"m":5.0},
{"t":600,"c":26.5,"b":22.3,"g":11.9,"m":4.7},
{"t":700,"c":24.6,"b":20.8,"g":11.0,"m":4.5},
{"t":800,"c":22.9,"b":19.4,"g":10.3,"m":4.3}
]
},
"spacing": 32,
"vconcat": [
{"hconcat": [
{
 "width": 364, "height": 142,
 "title": {"text": "AE04, 1:5 Dilution", "subtitle": ["kₐ: 8.77 x 10⁵ M⁻¹s⁻¹", "kd: 8.11 x 10⁻⁴ s⁻¹", "KD: 9.25 x 10⁻¹⁰ M"]},
 "encoding": {
  "x": {"field": "t", "type": "quantitative", "scale": {"domain": [-100, 800], "nice": false, "zero": false}, "axis": {"values": [0, 200, 400, 600, 800], "title": "Time, sec"}},
  "y": {"field": "v", "type": "quantitative", "scale": {"domain": [-5.9, 49.2], "nice": false, "zero": false}, "axis": {"values": [0, 20, 40], "labelExpr": "datum.value == 20 ? '' : datum.label", "title": "Response, RU"}}
 },
 "layer": [
  {"data": {"name": "g"}, "transform": [{"filter": "datum.p == 1"}], "mark": {"type": "line", "color": "#c4c4c4", "strokeWidth": 1.8}, "encoding": {"detail": {"field": "k"}}},
  {"data": {"name": "n1"}, "transform": [{"fold": ["c", "b", "g", "r", "m"], "as": ["s", "v"]}], "mark": {"type": "line", "strokeWidth": 1.5}, "encoding": {"color": {"field": "s", "type": "nominal", "scale": {"domain": ["r", "c", "b", "g", "m"], "range": ["#ff2a7f", "#26eeee", "#2626ee", "#26ee26", "#ff2aff"]}, "legend": null}}},
  {"data": {"name": "f1"}, "transform": [{"fold": ["r", "c", "b", "g", "m"], "as": ["s", "v"]}], "mark": {"type": "line", "color": "#8a8a8a", "strokeWidth": 4, "opacity": 0.5}, "encoding": {"detail": {"field": "s"}}},
  {"data": {"name": "f1"}, "transform": [{"fold": ["r", "c", "b", "g", "m"], "as": ["s", "v"]}], "mark": {"type": "line", "color": "#1e1e1e", "strokeWidth": 1.4}, "encoding": {"detail": {"field": "s"}}}
 ]
},
{
 "width": 363, "height": 142,
 "title": {"text": "AE04, 1:10 Dilution", "subtitle": ["kₐ: 8.67 x 10⁵ M⁻¹s⁻¹", "kd: 1.25 x 10⁻³ s⁻¹", "KD: 1.44 x 10⁻⁹ M"]},
 "encoding": {
  "x": {"field": "t", "type": "quantitative", "scale": {"domain": [-100, 800], "nice": false, "zero": false}, "axis": {"values": [0, 200, 400, 600, 800], "title": "Time, sec"}},
  "y": {"field": "v", "type": "quantitative", "scale": {"domain": [-6.3, 49.2], "nice": false, "zero": false}, "axis": {"values": [0, 20, 40], "labelExpr": "datum.value == 20 ? '' : datum.label", "title": null}}
 },
 "layer": [
  {"data": {"name": "g"}, "transform": [{"filter": "datum.p == 2"}], "mark": {"type": "line", "color": "#c4c4c4", "strokeWidth": 1.8}, "encoding": {"detail": {"field": "k"}}},
  {"data": {"name": "n2"}, "transform": [{"fold": ["c", "b", "g", "r", "m"], "as": ["s", "v"]}], "mark": {"type": "line", "strokeWidth": 1.5}, "encoding": {"color": {"field": "s", "type": "nominal", "scale": {"domain": ["r", "c", "b", "g", "m"], "range": ["#ff2a7f", "#26eeee", "#2626ee", "#26ee26", "#ff2aff"]}, "legend": null}}},
  {"data": {"name": "f2"}, "transform": [{"fold": ["r", "c", "b", "g", "m"], "as": ["s", "v"]}], "mark": {"type": "line", "color": "#8a8a8a", "strokeWidth": 4, "opacity": 0.5}, "encoding": {"detail": {"field": "s"}}},
  {"data": {"name": "f2"}, "transform": [{"fold": ["r", "c", "b", "g", "m"], "as": ["s", "v"]}], "mark": {"type": "line", "color": "#1e1e1e", "strokeWidth": 1.4}, "encoding": {"detail": {"field": "s"}}}
 ]
},
{
 "width": 370, "height": 145,
 "title": {"text": "AE04, 1:20 Dilution", "subtitle": ["kₐ: 7.38 x 10⁵ M⁻¹s⁻¹", "kd: 8.45 x 10⁻⁴ s⁻¹", "KD: 1.14 x 10⁻⁹ M"]},
 "encoding": {
  "x": {"field": "t", "type": "quantitative", "scale": {"domain": [-100, 800], "nice": false, "zero": false}, "axis": {"values": [0, 200, 400, 600, 800], "title": "Time, sec"}},
  "y": {"field": "v", "type": "quantitative", "scale": {"domain": [-7.8, 26.7], "nice": false, "zero": false}, "axis": {"values": [0, 10, 20], "labelExpr": "datum.value == 10 ? '' : datum.label", "title": null}}
 },
 "layer": [
  {"data": {"name": "g"}, "transform": [{"filter": "datum.p == 3"}], "mark": {"type": "line", "color": "#c4c4c4", "strokeWidth": 1.8}, "encoding": {"detail": {"field": "k"}}},
  {"data": {"name": "n3"}, "transform": [{"fold": ["c", "b", "g", "r", "m"], "as": ["s", "v"]}], "mark": {"type": "line", "strokeWidth": 1.5}, "encoding": {"color": {"field": "s", "type": "nominal", "scale": {"domain": ["r", "c", "b", "g", "m"], "range": ["#ff2a7f", "#26eeee", "#2626ee", "#26ee26", "#ff2aff"]}, "legend": null}}},
  {"data": {"name": "f3"}, "transform": [{"fold": ["r", "c", "b", "g", "m"], "as": ["s", "v"]}], "mark": {"type": "line", "color": "#8a8a8a", "strokeWidth": 4, "opacity": 0.5}, "encoding": {"detail": {"field": "s"}}},
  {"data": {"name": "f3"}, "transform": [{"fold": ["r", "c", "b", "g", "m"], "as": ["s", "v"]}], "mark": {"type": "line", "color": "#1e1e1e", "strokeWidth": 1.4}, "encoding": {"detail": {"field": "s"}}}
 ]
}
], "spacing": 78, "bounds": "flush"},
{"hconcat": [
{
 "width": 359, "height": 140,
 "title": {"text": "AE05, 1:5 Dilution", "subtitle": ["kₐ: 2.13 x 10⁶ M⁻¹s⁻¹", "kd: 7.86 x 10⁻⁴ s⁻¹", "KD: 3.69 x 10⁻¹⁰ M"]},
 "encoding": {
  "x": {"field": "t", "type": "quantitative", "scale": {"domain": [-100, 800], "nice": false, "zero": false}, "axis": {"values": [0, 200, 400, 600, 800], "title": "Time, sec", "titlePadding": 11}},
  "y": {"field": "v", "type": "quantitative", "scale": {"domain": [-6.6, 48.5], "nice": false, "zero": false}, "axis": {"values": [0, 20, 40], "labelExpr": "datum.value == 20 ? '' : datum.label", "title": "Response, RU"}}
 },
 "layer": [
  {"data": {"name": "g"}, "transform": [{"filter": "datum.p == 4"}], "mark": {"type": "line", "color": "#c4c4c4", "strokeWidth": 1.8}, "encoding": {"detail": {"field": "k"}}},
  {"data": {"name": "n4"}, "transform": [{"fold": ["c", "b", "g", "r", "m"], "as": ["s", "v"]}], "mark": {"type": "line", "strokeWidth": 1.5}, "encoding": {"color": {"field": "s", "type": "nominal", "scale": {"domain": ["r", "c", "b", "g", "m"], "range": ["#ff2a7f", "#26eeee", "#2626ee", "#26ee26", "#ff2aff"]}, "legend": null}}},
  {"data": {"name": "f4"}, "transform": [{"fold": ["r", "c", "b", "g", "m"], "as": ["s", "v"]}], "mark": {"type": "line", "color": "#8a8a8a", "strokeWidth": 4, "opacity": 0.5}, "encoding": {"detail": {"field": "s"}}},
  {"data": {"name": "f4"}, "transform": [{"fold": ["r", "c", "b", "g", "m"], "as": ["s", "v"]}], "mark": {"type": "line", "color": "#1e1e1e", "strokeWidth": 1.4}, "encoding": {"detail": {"field": "s"}}}
 ]
},
{
 "width": 363, "height": 141,
 "title": {"text": "AE05, 1:10 Dilution", "subtitle": ["kₐ: 1.76 x 10⁶ M⁻¹s⁻¹", "kd: 5.77 x 10⁻⁴ s⁻¹", "KD: 3.29 x 10⁻¹⁰ M"]},
 "encoding": {
  "x": {"field": "t", "type": "quantitative", "scale": {"domain": [-100, 800], "nice": false, "zero": false}, "axis": {"values": [0, 200, 400, 600, 800], "title": "Time, sec", "titlePadding": 11}},
  "y": {"field": "v", "type": "quantitative", "scale": {"domain": [-4.0, 30.1], "nice": false, "zero": false}, "axis": {"values": [0, 20], "title": null}}
 },
 "layer": [
  {"data": {"name": "g"}, "transform": [{"filter": "datum.p == 5"}], "mark": {"type": "line", "color": "#c4c4c4", "strokeWidth": 1.8}, "encoding": {"detail": {"field": "k"}}},
  {"data": {"name": "n5"}, "transform": [{"fold": ["c", "b", "g", "m"], "as": ["s", "v"]}], "mark": {"type": "line", "strokeWidth": 1.5}, "encoding": {"color": {"field": "s", "type": "nominal", "scale": {"domain": ["r", "c", "b", "g", "m"], "range": ["#ff2a7f", "#26eeee", "#2626ee", "#26ee26", "#ff2aff"]}, "legend": null}}},
  {"data": {"name": "f5"}, "transform": [{"fold": ["c", "b", "g", "m"], "as": ["s", "v"]}], "mark": {"type": "line", "color": "#8a8a8a", "strokeWidth": 4, "opacity": 0.5}, "encoding": {"detail": {"field": "s"}}},
  {"data": {"name": "f5"}, "transform": [{"fold": ["c", "b", "g", "m"], "as": ["s", "v"]}], "mark": {"type": "line", "color": "#1e1e1e", "strokeWidth": 1.4}, "encoding": {"detail": {"field": "s"}}}
 ]
},
{
 "width": 369, "height": 141,
 "title": {"text": "AE05, 1:20 Dilution", "subtitle": ["kₐ: 1.91 x 10⁶ M⁻¹s⁻¹", "kd: 7.02 x 10⁻⁴ s⁻¹", "KD: 3.68 x 10⁻¹⁰ M"]},
 "encoding": {
  "x": {"field": "t", "type": "quantitative", "scale": {"domain": [-100, 800], "nice": false, "zero": false}, "axis": {"values": [0, 200, 400, 600, 800], "title": "Time, sec", "titlePadding": 11}},
  "y": {"field": "v", "type": "quantitative", "scale": {"domain": [-6.1, 43.7], "nice": false, "zero": false}, "axis": {"values": [0, 20, 40], "title": null}}
 },
 "layer": [
  {"data": {"name": "g"}, "transform": [{"filter": "datum.p == 6"}], "mark": {"type": "line", "color": "#c4c4c4", "strokeWidth": 1.8}, "encoding": {"detail": {"field": "k"}}},
  {"data": {"name": "n6"}, "transform": [{"fold": ["c", "b", "g", "m"], "as": ["s", "v"]}], "mark": {"type": "line", "strokeWidth": 1.5}, "encoding": {"color": {"field": "s", "type": "nominal", "scale": {"domain": ["r", "c", "b", "g", "m"], "range": ["#ff2a7f", "#26eeee", "#2626ee", "#26ee26", "#ff2aff"]}, "legend": null}}},
  {"data": {"name": "f6"}, "transform": [{"fold": ["c", "b", "g", "m"], "as": ["s", "v"]}], "mark": {"type": "line", "color": "#8a8a8a", "strokeWidth": 4, "opacity": 0.5}, "encoding": {"detail": {"field": "s"}}},
  {"data": {"name": "f6"}, "transform": [{"fold": ["c", "b", "g", "m"], "as": ["s", "v"]}], "mark": {"type": "line", "color": "#1e1e1e", "strokeWidth": 1.4}, "encoding": {"detail": {"field": "s"}}}
 ]
}
], "spacing": 81, "bounds": "flush"}
]
}
